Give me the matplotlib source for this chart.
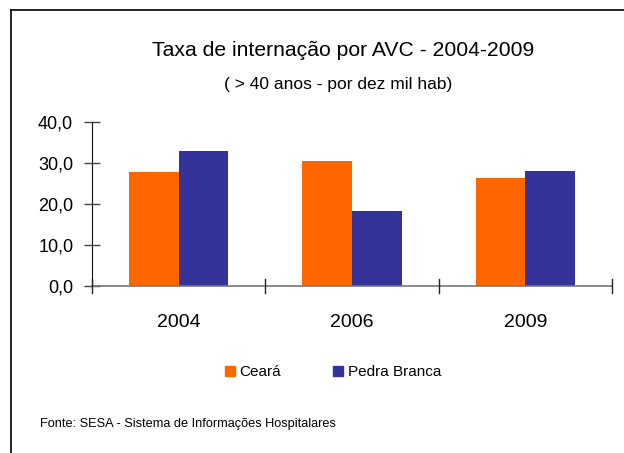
import numpy as np
import matplotlib.pyplot as plt
from matplotlib.lines import Line2D

# Data
years = ['2004', '2006', '2009']
ceara = [27.8, 30.5, 26.3]
pedra_branca = [32.9, 18.3, 28.0]
yticks = [0, 10, 20, 30, 40]

plt.rcParams['font.family'] = ['Liberation Sans', 'DejaVu Sans']

fig = plt.figure(figsize=(6.24, 4.53), dpi=100)
ax = fig.add_axes([92 / 624, 1 - 286 / 453, 520 / 624, 164 / 453])

x = np.arange(len(years))
w = 0.286
ax.bar(x - w / 2, ceara, w, color='#FF6600', label='Ceará')
ax.bar(x + w / 2, pedra_branca, w, color='#333399', label='Pedra Branca')

ax.set_xlim(-0.5, len(years) - 0.5)
ax.set_ylim(0, 40)
ax.set_yticks(yticks)
ax.set_yticklabels([f'{v:.1f}'.replace('.', ',') for v in yticks], fontsize=13)
ax.set_xticks(x)
ax.set_xticklabels(years, fontsize=14)
ax.tick_params(axis='x', length=0, pad=20)
ax.tick_params(axis='y', direction='inout', length=11, width=1, color='#444444', pad=8)

# category boundary ticks on x axis
for b in np.arange(-0.5, len(years), 1.0):
    ax.plot([b, b], [-1.8, 1.6], color='#222222', lw=1, clip_on=False, zorder=5)

for s in ['top', 'right']:
    ax.spines[s].set_visible(False)
ax.spines['left'].set_color('#111111')
ax.spines['bottom'].set_color('#777777')
ax.spines['bottom'].set_linewidth(1.2)

fig.text(343 / 624, 1 - 51 / 453, 'Taxa de internação por AVC - 2004-2009',
         ha='center', va='center', fontsize=15.2)
fig.text(338 / 624, 1 - 85 / 453, '( > 40 anos - por dez mil hab)',
         ha='center', va='center', fontsize=12.5)

handles = [Line2D([], [], marker='s', ls='', color='#FF6600', markersize=7),
           Line2D([], [], marker='s', ls='', color='#333399', markersize=7)]
fig.legend(handles, ['Ceará', 'Pedra Branca'], loc='center', ncol=2,
           bbox_to_anchor=(333 / 624, 1 - 372 / 453), frameon=False,
           fontsize=11, handletextpad=0.25, columnspacing=3.4, handlelength=0.7)

fig.text(40 / 624, 1 - 424 / 453, 'Fonte: SESA - Sistema de Informações Hospitalares',
         ha='left', va='center', fontsize=9.2)

# outer border (top and left)
fig.add_artist(Line2D([11 / 624, 1], [1 - 10 / 453, 1 - 10 / 453], color='black', lw=1.2))
fig.add_artist(Line2D([11 / 624, 11 / 624], [0, 1 - 10 / 453], color='black', lw=1.2))

fig.savefig('out.png', dpi=100)
